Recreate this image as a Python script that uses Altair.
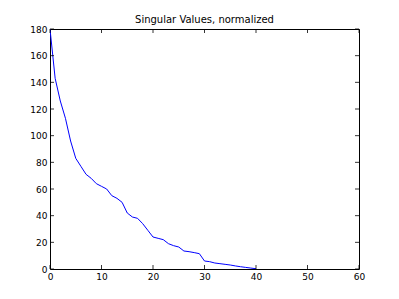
import altair as alt
import pandas as pd

idx = list(range(0, 41))
vals = [180, 143, 126, 113, 96, 83, 77, 71, 68, 64, 62, 60, 55, 53, 50, 42, 39, 38, 34, 29,
        24, 23, 22, 19, 17.5, 16.5, 13.5, 13, 12.3, 11.5, 6, 5.5, 4.5, 4, 3.5, 3, 2.3, 1.7, 1.2, 0.7, 0.2]
xticks = [0, 10, 20, 30, 40, 50, 60]
yticks = [0, 20, 40, 60, 80, 100, 120, 140, 160, 180]

W, H = 309, 240
df = pd.DataFrame({"x": idx, "y": vals})
xs = alt.Scale(domain=[0, 60], nice=False, zero=False)
ys = alt.Scale(domain=[0, 180], nice=False, zero=False)

common = dict(ticks=False, domain=False, grid=False, title=None, labelPadding=3, labelFontSize=9,
              labelColor="black", labelFont="DejaVu Sans", labelFlush=False, labelOverlap=False)
xa = alt.Axis(values=xticks, **common)
ya = alt.Axis(values=yticks, **common)

line = alt.Chart(df).mark_line(color="#0000ff", strokeWidth=1, clip=True).encode(
    x=alt.X("x:Q", scale=xs, axis=xa),
    y=alt.Y("y:Q", scale=ys, axis=ya),
)

xt = pd.DataFrame({"x": xticks})
yt = pd.DataFrame({"y": yticks})
xb = alt.Chart(xt).mark_rule(color="black", strokeWidth=0.8).encode(
    x=alt.X("x:Q", scale=xs, axis=xa), y=alt.value(H), y2=alt.value(H - 4))
xtop = alt.Chart(xt).mark_rule(color="black", strokeWidth=0.8).encode(
    x=alt.X("x:Q", scale=xs, axis=xa), y=alt.value(0), y2=alt.value(4))
yl = alt.Chart(yt).mark_rule(color="black", strokeWidth=0.8).encode(
    y=alt.Y("y:Q", scale=ys, axis=ya), x=alt.value(0), x2=alt.value(4))
yr = alt.Chart(yt).mark_rule(color="black", strokeWidth=0.8).encode(
    y=alt.Y("y:Q", scale=ys, axis=ya), x=alt.value(W), x2=alt.value(W - 4))

chart = alt.layer(line, xb, xtop, yl, yr).properties(
    width=W, height=H,
    background="white",
    title=alt.TitleParams("Singular Values, normalized", fontSize=10, font="DejaVu Sans",
                          fontWeight="normal", color="black", offset=4, dy=4),
    autosize=alt.AutoSizeParams(type="none"),
    padding={"left": 42, "top": 21, "right": 30, "bottom": 20},
).configure_view(stroke="black", strokeWidth=1)

chart.save("out.html", embed_options={"renderer": "svg", "actions": False})
